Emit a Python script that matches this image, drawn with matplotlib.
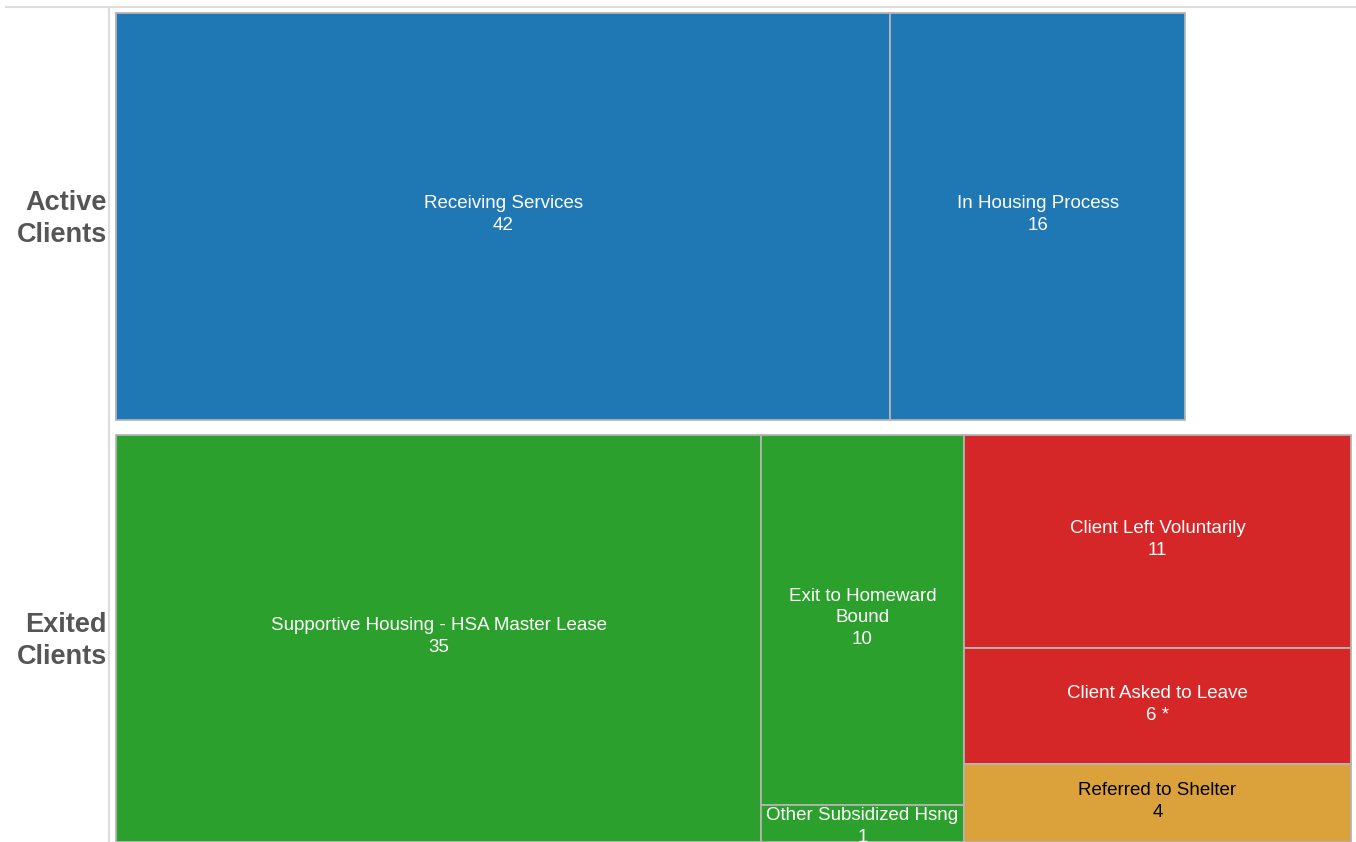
import matplotlib.pyplot as plt
from matplotlib.patches import Rectangle

plt.rcParams["font.family"] = ["Liberation Sans", "DejaVu Sans"]

# rows of the treemap
row_names = ["Active\nClients", "Exited\nClients"]

# tiles: row index, column index inside the row, label, value
tile_rows = [0, 0, 1, 1, 1, 1, 1, 1]
tile_cols = [0, 1, 0, 1, 1, 2, 2, 2]
tile_labels = ["Receiving Services", "In Housing Process",
               "Supportive Housing - HSA Master Lease", "Exit to Homeward\nBound",
               "Other Subsidized Hsng", "Client Left Voluntarily",
               "Client Asked to Leave", "Referred to Shelter"]
tile_values = [42, 16, 35, 10, 1, 11, 6, 4]
tile_notes = ["", "", "", "", "", "", " *", ""]
tile_colors = ["#1f77b4", "#1f77b4", "#2ca02c", "#2ca02c", "#2ca02c",
               "#d62728", "#d62728", "#dba13a"]
tile_text = ["white", "white", "white", "white", "white", "white", "white", "black"]

W, H = 1356, 842
fig = plt.figure(figsize=(W / 100, H / 100), dpi=100)
ax = fig.add_axes([0, 0, 1, 1])

# x in value units, y in pixels (inverted)
px_per_unit = 1235 / 67
x0 = 116
ax.set_xlim(-x0 / px_per_unit, (W - x0) / px_per_unit)
ax.set_ylim(H, 0)
ax.axis("off")

row_top = [13, 435]
row_h = 407

for r in range(len(row_names)):
    idx = [i for i in range(len(tile_values)) if tile_rows[i] == r]
    cols = sorted(set(tile_cols[i] for i in idx))
    x = 0
    for c in cols:
        members = [i for i in idx if tile_cols[i] == c]
        col_total = sum(tile_values[i] for i in members)
        y = row_top[r]
        for i in members:
            h = row_h * tile_values[i] / col_total
            ax.add_patch(Rectangle((x, y), col_total, h, facecolor=tile_colors[i],
                                   edgecolor="#b4b4b4", linewidth=1.3))
            label = f"{tile_labels[i]}\n{tile_values[i]}{tile_notes[i]}"
            if h < 60:
                # too small: hang the label from the top edge
                ax.text(x + col_total / 2, y + 2, label, ha="center", va="top",
                        fontsize=13.5, color=tile_text[i], linespacing=1.35)
            else:
                ax.text(x + col_total / 2, y + h / 2 - 2, label, ha="center",
                        va="center", fontsize=13.5, color=tile_text[i],
                        linespacing=1.35)
            y += h
        x += col_total
    fig.text(107 / W, 1 - (row_top[r] + row_h / 2 + 3) / H, row_names[r],
             ha="right", va="center", fontsize=19.5, fontweight="bold",
             color="#555555", linespacing=1.3)

# frame lines
fig.add_artist(plt.Line2D([6 / W, 1], [1 - 6.5 / H, 1 - 6.5 / H], color="#dddddd", lw=1.5))
fig.add_artist(plt.Line2D([109 / W, 109 / W], [0, 1 - 7 / H], color="#dddddd", lw=1.5))

fig.savefig("out.png", dpi=100)
